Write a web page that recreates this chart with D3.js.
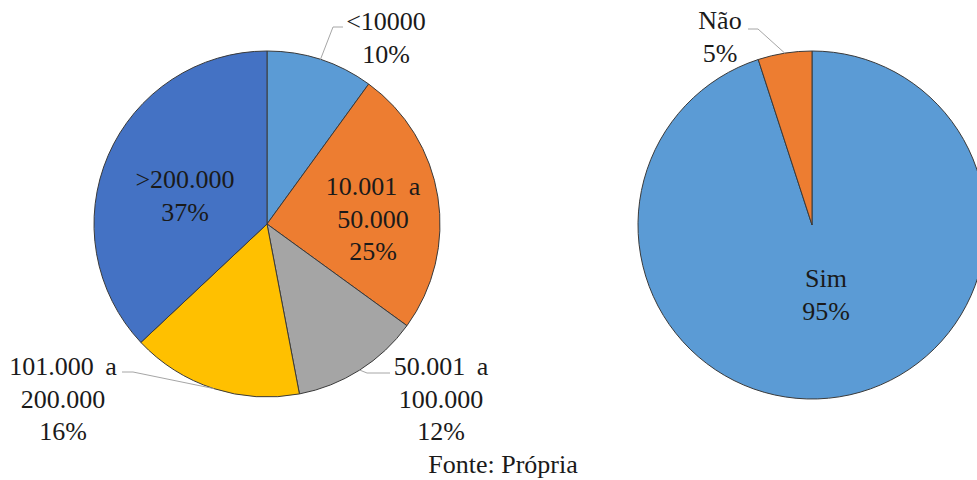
<!DOCTYPE html>
<html lang="pt">
<head>
    <meta charset="utf-8"/>
    <title>Pies</title>
    <script src="https://d3js.org/d3.v7.min.js"></script>
    <style>
        body { margin: 0; background: #fff; }
    </style>
</head>
<body>
<script>
    // left pie: faixa de valores
    const faixaLabels = ["<10000", "10.001 a|50.000", "50.001 a|100.000", "101.000 a|200.000", ">200.000"];
    const faixaValues = [10, 25, 12, 16, 37];
    const faixaColors = ["#5B9BD5", "#ED7D31", "#A5A5A5", "#FFC000", "#4472C4"];

    // right pie: sim / não
    const simNaoLabels = ["Sim", "Não"];
    const simNaoValues = [95, 5];
    const simNaoColors = ["#5B9BD5", "#ED7D31"];

    const fonte = "Fonte: Própria";

    const W = 977, H = 480;
    const FONT = "'Liberation Serif', 'DejaVu Serif', serif";
    const svg = d3.select("body").append("svg").attr("width", W).attr("height", H);

    // label anchor (center x, first baseline) relative to pie center, plus elbow for leader lines
    const leftLayout = [
        {dx: 119, dy: -194, elbow: [66, -197], start: [76, -197]},
        {dx: 106, dy: -29},
        {dx: 174, dy: 151, elbow: [100, 149], start: [123, 149]},
        {dx: -204, dy: 151, elbow: [-134, 148], start: [-145, 148]},
        {dx: -82, dy: -36}
    ];
    const rightLayout = [
        {dx: 14, dy: 62},
        {dx: -92, dy: -196, elbow: [-54, -196], start: [-64, -196]}
    ];

    function drawPie(cx, cy, r, labels, values, colors, layout) {
        const g = svg.append("g").attr("transform", `translate(${cx},${cy})`);
        const pie = d3.pie().sort(null).value(d => d);
        const arc = d3.arc().innerRadius(0).outerRadius(r);
        const arcs = pie(values);

        g.selectAll("path.slice")
            .data(arcs)
            .enter()
            .append("path")
            .attr("class", "slice")
            .attr("d", arc)
            .attr("fill", (d, i) => colors[i])
            .attr("stroke", "#3a3a3a")
            .attr("stroke-width", 1);

        arcs.forEach((d, i) => {
            const lay = layout[i];
            if (lay.elbow) {
                const mid = (d.startAngle + d.endAngle) / 2;
                const edge = [Math.sin(mid) * r, -Math.cos(mid) * r];
                g.append("path")
                    .attr("d", d3.line()([edge, lay.elbow, lay.start]))
                    .attr("fill", "none")
                    .attr("stroke", "#a6a6a6")
                    .attr("stroke-width", 1);
            }
            const lines = labels[i].split("|").concat([values[i] + "%"]);
            const t = g.append("text")
                .attr("text-anchor", "middle")
                .attr("font-family", FONT)
                .attr("font-size", 26)
                .attr("fill", "#1a1a1a")
                .attr("word-spacing", 5)
                .attr("x", lay.dx)
                .attr("y", lay.dy);
            lines.forEach((ln, k) => {
                t.append("tspan")
                    .attr("x", lay.dx)
                    .attr("dy", k === 0 ? 0 : 32.5)
                    .text(ln);
            });
        });
    }

    drawPie(267, 224, 173, faixaLabels, faixaValues, faixaColors, leftLayout);
    drawPie(812, 225, 174, simNaoLabels, simNaoValues, simNaoColors, rightLayout);

    svg.append("text")
        .attr("x", 503)
        .attr("y", 473)
        .attr("text-anchor", "middle")
        .attr("font-family", FONT)
        .attr("font-size", 26)
        .attr("fill", "#1a1a1a")
        .text(fonte);
</script>
</body>
</html>
